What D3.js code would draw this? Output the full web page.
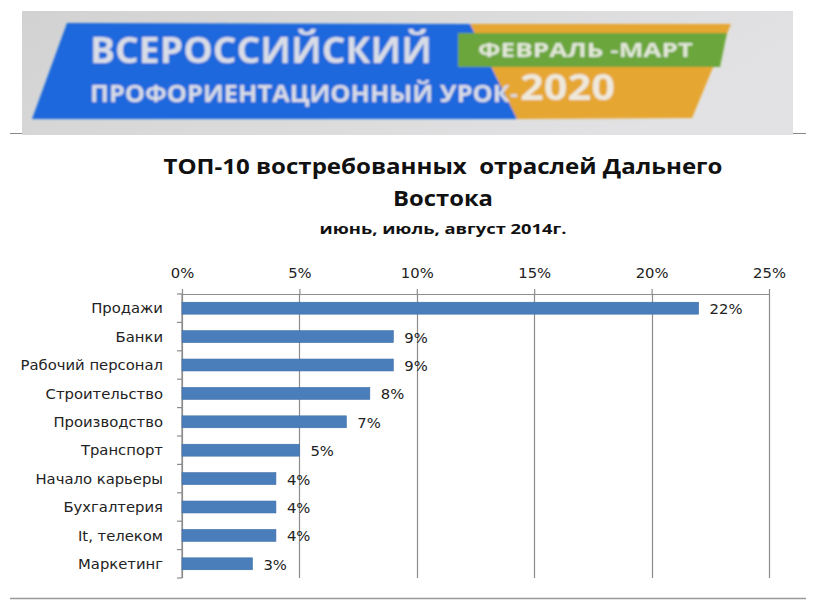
<!DOCTYPE html>
<html><head><meta charset="utf-8">
<script src="https://cdn.jsdelivr.net/npm/d3@7"></script>
<style>
html,body{margin:0;padding:0;background:#fff;}
svg{display:block;}
</style></head>
<body>
<svg id="c" width="816" height="613"></svg>
<script>
const categories = ["Продажи","Банки","Рабочий персонал","Строительство","Производство","Транспорт","Начало карьеры","Бухгалтерия","It, телеком","Маркетинг"];
const values = [0.22,0.09,0.09,0.08,0.07,0.05,0.04,0.04,0.04,0.03];
const tickValues = [0,0.05,0.10,0.15,0.20,0.25];
const titleLines = ["ТОП-10 востребованных  отраслей Дальнего","Востока"];
const subtitle = "июнь, июль, август 2014г.";
const bannerTop = "ВСЕРОССИЙСКИЙ";
const bannerBottom = "ПРОФОРИЕНТАЦИОННЫЙ УРОК-";
const bannerYear = "2020";
const bannerDate = "ФЕВРАЛЬ -МАРТ";

const svg = d3.select("#c");
const lbl = "'DejaVu Sans', Verdana, sans-serif";
const ttl = "'Open Sans', 'Noto Sans', sans-serif";

// ---- Banner ----
const defs = svg.append("defs");
const g1 = defs.append("linearGradient").attr("id","bg").attr("x1",0).attr("x2",1).attr("y1",0).attr("y2",0.3);
g1.append("stop").attr("offset","0%").attr("stop-color","#d2d2d2");
g1.append("stop").attr("offset","100%").attr("stop-color","#e2e2e4");
const blur = defs.append("filter").attr("id","bl");
blur.append("feGaussianBlur").attr("stdDeviation",0.8);

// separator lines
svg.append("line").attr("x1",10).attr("x2",806).attr("y1",133.5).attr("y2",133.5).attr("stroke","#888").attr("stroke-width",1);
svg.append("line").attr("x1",10).attr("x2",806).attr("y1",598.5).attr("y2",598.5).attr("stroke","#999").attr("stroke-width",1.5);

const ban = svg.append("g");
ban.append("rect").attr("x",22).attr("y",11).attr("width",771).attr("height",124).attr("fill","url(#bg)");
const bg = ban.append("g").attr("filter","url(#bl)");
bg.append("polygon").attr("points","470,24 731,24 692,118 517,119").attr("fill","#e6a632");
bg.append("polygon").attr("points","67,23 470,24 517,119 32,119").attr("fill","#1a68dc");
bg.append("polygon").attr("points","458,33 727,33 720,67 458,67").attr("fill","#6aa63a");
bg.append("text").attr("x",90).attr("y",63).attr("font-family",ttl).attr("font-weight",700)
  .attr("font-size",35).attr("fill","#d9dde6").attr("textLength",342).attr("lengthAdjust","spacingAndGlyphs").text(bannerTop);
bg.append("text").attr("x",90).attr("y",102).attr("font-family",ttl).attr("font-weight",700)
  .attr("font-size",23).attr("fill","#d9dde6").attr("textLength",428).attr("lengthAdjust","spacingAndGlyphs").text(bannerBottom);
bg.append("text").attr("x",520).attr("y",100).attr("font-family",ttl).attr("font-weight",700)
  .attr("font-size",36).attr("fill","#eee9dc").attr("textLength",95).attr("lengthAdjust","spacingAndGlyphs").text(bannerYear);
bg.append("text").attr("x",478).attr("y",57).attr("font-family",ttl).attr("font-weight",700)
  .attr("font-size",19).attr("fill","#e3e9da").attr("textLength",215).attr("lengthAdjust","spacingAndGlyphs").text(bannerDate);

// ---- Titles ----
svg.append("text").attr("x",443).attr("y",174).attr("text-anchor","middle").attr("font-family",ttl)
  .style("white-space","pre")
  .attr("font-weight",700).attr("font-size",21).attr("fill","#111").attr("textLength",559).attr("lengthAdjust","spacingAndGlyphs").text(titleLines[0]);
svg.append("text").attr("x",443).attr("y",206).attr("text-anchor","middle").attr("font-family",ttl)
  .attr("font-weight",700).attr("font-size",21).attr("fill","#111").attr("textLength",100).attr("lengthAdjust","spacingAndGlyphs").text(titleLines[1]);
svg.append("text").attr("x",443).attr("y",234).attr("text-anchor","middle").attr("font-family",ttl)
  .attr("font-weight",700).attr("font-size",15).attr("fill","#111").attr("textLength",247).attr("lengthAdjust","spacingAndGlyphs").text(subtitle);

// ---- Chart ----
const x = d3.scaleLinear().domain([0,0.25]).range([182,769]);
const y = d3.scaleBand().domain(categories).range([294,578]).paddingInner(0.58).paddingOuter(0.29);
const fs = 14.8;

const grid = svg.append("g");
grid.selectAll("line").data(tickValues).join("line")
  .attr("x1",d=>Math.round(x(d))+0.5).attr("x2",d=>Math.round(x(d))+0.5)
  .attr("y1",y.range()[0]).attr("y2",y.range()[1])
  .attr("stroke","#8c8c8c").attr("stroke-width",1.2);

const xAxis = svg.append("g").attr("transform",`translate(0,${y.range()[0]})`)
  .call(d3.axisTop(x).tickValues(tickValues).tickFormat(d3.format(".0%")).tickSize(5).tickSizeOuter(0).tickPadding(11));
xAxis.selectAll("path,line").attr("stroke","#8c8c8c").attr("stroke-width",1.2);
xAxis.selectAll("text").attr("font-family",lbl).attr("font-size",fs).attr("fill","#222");

// y axis line and boundary ticks
const ya = svg.append("g");
ya.append("line").attr("x1",x(0)).attr("x2",x(0)).attr("y1",y.range()[0]).attr("y2",y.range()[1]).attr("stroke","#8c8c8c").attr("stroke-width",1.2);
const bounds = d3.range(categories.length+1).map(i=>y.range()[0]+i*y.step());
ya.selectAll("line.t").data(bounds).join("line").attr("class","t")
  .attr("x1",x(0)-5).attr("x2",x(0)).attr("y1",d=>d).attr("y2",d=>d).attr("stroke","#8c8c8c").attr("stroke-width",1.2);

ya.selectAll("text").data(categories).join("text")
  .attr("x",x(0)-19).attr("y",d=>y(d)+y.bandwidth()/2).attr("dy","0.35em").attr("text-anchor","end")
  .attr("font-family",lbl).attr("font-size",fs).attr("fill","#222").text(d=>d);

// bars
svg.append("g").selectAll("rect").data(values).join("rect")
  .attr("x",x(0)).attr("y",(d,i)=>y(categories[i])).attr("width",d=>x(d)-x(0)).attr("height",y.bandwidth())
  .attr("fill","#4a7ebb").attr("stroke","#3f6fa8").attr("stroke-width",0.6);

// data labels
svg.append("g").selectAll("text").data(values).join("text")
  .attr("x",d=>x(d)+11).attr("y",(d,i)=>y(categories[i])+y.bandwidth()/2).attr("dy","0.4em")
  .attr("font-family",lbl).attr("font-size",fs).attr("fill","#222").text(d=>d3.format(".0%")(d));
</script>
</body></html>
